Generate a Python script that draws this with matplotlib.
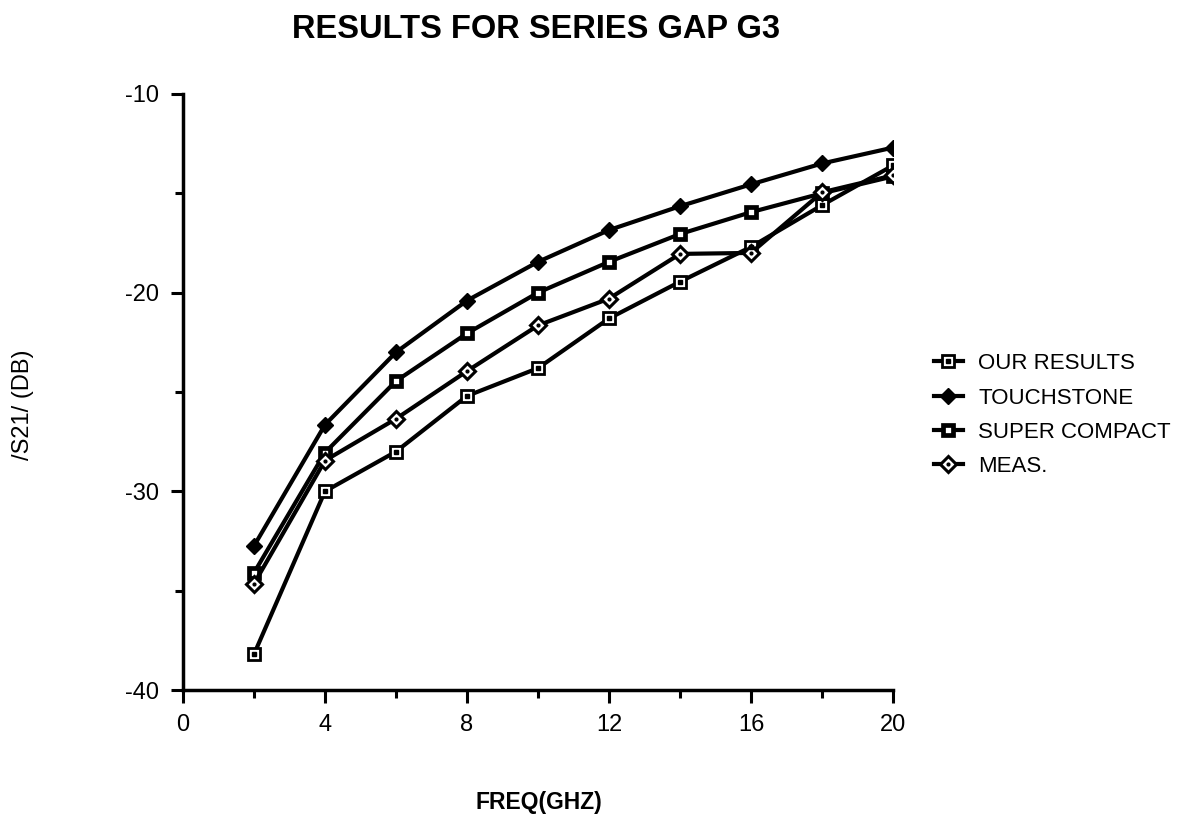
import numpy as np
import matplotlib.pyplot as plt
from matplotlib.legend_handler import HandlerTuple

FREQ = [2, 4, 6, 8, 10, 12, 14, 16, 18, 20]
OUR_RESULTS = [-38.2, -30.0, -28.0, -25.2, -23.8, -21.3, -19.45, -17.7, -15.6, -13.6]
TOUCHSTONE = [-32.75, -26.65, -23.0, -20.4, -18.45, -16.85, -15.65, -14.55, -13.5, -12.7]
SUPER_COMPACT = [-34.1, -28.05, -24.45, -22.05, -20.0, -18.45, -17.05, -15.95, -15.0, -14.15]
MEAS = [-34.65, -28.45, -26.35, -23.95, -21.65, -20.3, -18.05, -18.0, -14.95, -14.1]
LABELS = ["OUR RESULTS", "TOUCHSTONE", "SUPER COMPACT", "MEAS."]

plt.rcParams["font.family"] = ["Liberation Sans", "DejaVu Sans"]
plt.rcParams["axes.unicode_minus"] = False

fig = plt.figure(figsize=(11.99, 8.17), dpi=100)
ax = fig.add_axes([0.1526, 0.1554, 0.5922, 0.7296])

lw = 3.0
handles = []

# open square with a dot in the middle
l1, = ax.plot(FREQ, OUR_RESULTS, color="black", lw=lw, marker="s", ms=8,
              mfc="white", mec="black", mew=2.0, zorder=3)
d1, = ax.plot(FREQ, OUR_RESULTS, ls="none", marker="s", ms=2.2, color="black", zorder=4)
handles.append((l1, d1))

# filled diamond
l2, = ax.plot(FREQ, TOUCHSTONE, color="black", lw=lw, marker="D", ms=8.5,
              mfc="black", mec="black", zorder=3)
handles.append(l2)

# heavy square, small white hole
l3, = ax.plot(FREQ, SUPER_COMPACT, color="black", lw=lw, marker="s", ms=7,
              mfc="white", mec="black", mew=3.4, zorder=3)
handles.append(l3)

# open diamond with dot
l4, = ax.plot(FREQ, MEAS, color="black", lw=lw, marker="D", ms=8,
              mfc="white", mec="black", mew=2.2, zorder=3)
d4, = ax.plot(FREQ, MEAS, ls="none", marker="o", ms=2.0, color="black", zorder=4)
handles.append((l4, d4))

ax.set_xlim(0, 20)
ax.set_ylim(-40, -10)
ax.set_xticks(np.arange(0, 21, 4))
ax.set_xticks(np.arange(2, 20, 4), minor=True)
ax.set_yticks([-40, -30, -20, -10])
ax.set_yticks([-35, -25, -15], minor=True)
ax.spines["top"].set_visible(False)
ax.spines["right"].set_visible(False)
ax.spines["left"].set_linewidth(2.5)
ax.spines["bottom"].set_linewidth(2.5)
ax.tick_params(which="major", length=9, width=2.2, labelsize=17, pad=8)
ax.tick_params(which="minor", length=6, width=2.2)

fig.text(539 / 1199, 1 - 803 / 817, "FREQ(GHZ)", fontsize=16.5, fontweight="bold",
         ha="center", va="center")
fig.text(23 / 1199, 1 - 405 / 817, "/S21/ (DB)", fontsize=17, rotation=90,
         ha="center", va="center")
fig.text(536 / 1199, 1 - 30 / 817, "RESULTS FOR SERIES GAP G3", fontsize=23.5,
         fontweight="bold", ha="center", va="center")

ax.legend(handles, LABELS,
          handler_map={tuple: HandlerTuple(ndivide=1)},
          loc="upper left", bbox_to_anchor=(1.045, 0.58), frameon=False,
          fontsize=16, handlelength=1.3, labelspacing=0.6, handletextpad=0.7,
          borderaxespad=0)

fig.savefig("out.png", dpi=100)
